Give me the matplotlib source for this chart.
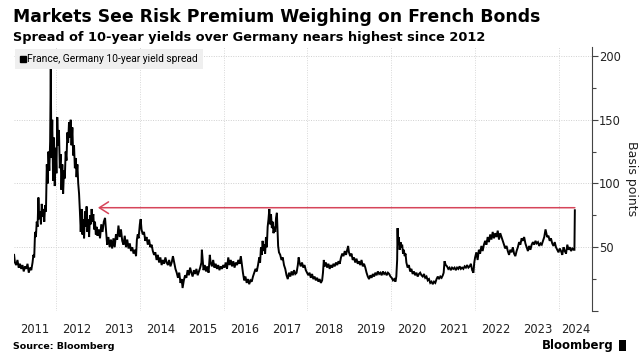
import matplotlib
matplotlib.use("Agg")
import matplotlib.pyplot as plt
from matplotlib.lines import Line2D
from matplotlib.patches import Rectangle

# ---------------------------------------------------------------------------
# Data: France - Germany 10-year yield spread (bp)
# dates are decimal years
# ---------------------------------------------------------------------------
spread_dates = [
    2011.00, 2011.02, 2011.05, 2011.08, 2011.11, 2011.14, 2011.17, 2011.20, 2011.23, 2011.26,
    2011.29, 2011.32, 2011.35, 2011.38, 2011.41, 2011.44, 2011.46, 2011.48, 2011.50, 2011.52,
    2011.54, 2011.56, 2011.58, 2011.60, 2011.62, 2011.64, 2011.66, 2011.68, 2011.70, 2011.72,
    2011.74, 2011.76, 2011.78, 2011.80, 2011.82, 2011.84, 2011.86, 2011.875, 2011.89, 2011.91,
    2011.93, 2011.95, 2011.97, 2011.99, 2012.01, 2012.03, 2012.05, 2012.07, 2012.09, 2012.11,
    2012.13, 2012.15, 2012.17, 2012.19, 2012.21, 2012.23, 2012.25, 2012.27, 2012.29, 2012.31,
    2012.33, 2012.35, 2012.37, 2012.39, 2012.41, 2012.43, 2012.45, 2012.47, 2012.49, 2012.51,
    2012.53, 2012.55, 2012.57, 2012.59, 2012.61, 2012.63, 2012.65, 2012.67, 2012.69, 2012.71,
    2012.73, 2012.75, 2012.77, 2012.79, 2012.81, 2012.83, 2012.85, 2012.87, 2012.89, 2012.91,
    2012.93, 2012.95, 2012.97, 2012.99, 2013.02, 2013.05, 2013.08, 2013.11, 2013.14, 2013.17,
    2013.20, 2013.22, 2013.25, 2013.28, 2013.31, 2013.34, 2013.37, 2013.40, 2013.43, 2013.46,
    2013.49, 2013.52, 2013.55, 2013.58, 2013.61, 2013.64, 2013.67, 2013.70, 2013.73, 2013.76,
    2013.79, 2013.82, 2013.85, 2013.88, 2013.91, 2013.93, 2013.95, 2013.97, 2014.00, 2014.02,
    2014.04, 2014.07, 2014.10, 2014.13, 2014.16, 2014.19, 2014.22, 2014.25, 2014.28, 2014.31,
    2014.34, 2014.37, 2014.40, 2014.43, 2014.46, 2014.49, 2014.52, 2014.55, 2014.58, 2014.61,
    2014.64, 2014.67, 2014.70, 2014.73, 2014.76, 2014.79, 2014.82, 2014.85, 2014.88, 2014.91,
    2014.94, 2014.97, 2015.00, 2015.02, 2015.05, 2015.08, 2015.11, 2015.14, 2015.17, 2015.20,
    2015.23, 2015.26, 2015.29, 2015.32, 2015.35, 2015.38, 2015.41, 2015.44, 2015.47, 2015.48,
    2015.50, 2015.52, 2015.55, 2015.58, 2015.61, 2015.64, 2015.67, 2015.69, 2015.72, 2015.75,
    2015.78, 2015.81, 2015.84, 2015.87, 2015.90, 2015.93, 2015.96, 2015.99, 2016.02, 2016.05,
    2016.08, 2016.11, 2016.14, 2016.17, 2016.20, 2016.23, 2016.26, 2016.29, 2016.32, 2016.35,
    2016.38, 2016.41, 2016.43, 2016.46, 2016.49, 2016.52, 2016.55, 2016.58, 2016.61, 2016.64,
    2016.67, 2016.70, 2016.73, 2016.76, 2016.79, 2016.82, 2016.85, 2016.87, 2016.89, 2016.91,
    2016.93, 2016.95, 2016.97, 2016.99, 2017.01, 2017.03, 2017.05, 2017.07, 2017.09, 2017.11,
    2017.13, 2017.15, 2017.17, 2017.19, 2017.21, 2017.23, 2017.25, 2017.27, 2017.29, 2017.30,
    2017.32, 2017.35, 2017.38, 2017.41, 2017.44, 2017.47, 2017.50, 2017.53, 2017.56, 2017.59,
    2017.62, 2017.65, 2017.68, 2017.71, 2017.74, 2017.77, 2017.79, 2017.81, 2017.84, 2017.87,
    2017.90, 2017.93, 2017.96, 2017.99, 2018.02, 2018.05, 2018.08, 2018.11, 2018.14, 2018.17,
    2018.20, 2018.23, 2018.26, 2018.29, 2018.32, 2018.35, 2018.37, 2018.39, 2018.41, 2018.44,
    2018.47, 2018.50, 2018.53, 2018.56, 2018.59, 2018.62, 2018.65, 2018.68, 2018.71, 2018.74,
    2018.77, 2018.80, 2018.83, 2018.86, 2018.89, 2018.92, 2018.95, 2018.97, 2018.99, 2019.02,
    2019.05, 2019.08, 2019.11, 2019.14, 2019.17, 2019.20, 2019.23, 2019.26, 2019.29, 2019.32,
    2019.35, 2019.38, 2019.41, 2019.44, 2019.47, 2019.50, 2019.53, 2019.56, 2019.59, 2019.62,
    2019.65, 2019.68, 2019.71, 2019.74, 2019.77, 2019.80, 2019.83, 2019.86, 2019.89, 2019.92,
    2019.95, 2019.98, 2020.01, 2020.04, 2020.07, 2020.10, 2020.12, 2020.14, 2020.15, 2020.16,
    2020.18, 2020.20, 2020.22, 2020.24, 2020.26, 2020.28, 2020.30, 2020.32, 2020.34, 2020.36,
    2020.39, 2020.42, 2020.45, 2020.48, 2020.51, 2020.54, 2020.57, 2020.60, 2020.63, 2020.66,
    2020.69, 2020.72, 2020.75, 2020.78, 2020.81, 2020.84, 2020.87, 2020.90, 2020.93, 2020.96,
    2020.99, 2021.02, 2021.05, 2021.08, 2021.11, 2021.14, 2021.17, 2021.20, 2021.23, 2021.25,
    2021.27, 2021.30, 2021.33, 2021.36, 2021.39, 2021.42, 2021.45, 2021.48, 2021.51, 2021.54,
    2021.57, 2021.60, 2021.63, 2021.66, 2021.69, 2021.72, 2021.75, 2021.78, 2021.81, 2021.84,
    2021.87, 2021.90, 2021.93, 2021.96, 2021.98, 2022.00, 2022.03, 2022.06, 2022.09, 2022.12,
    2022.15, 2022.18, 2022.21, 2022.24, 2022.27, 2022.30, 2022.33, 2022.36, 2022.39, 2022.42,
    2022.45, 2022.48, 2022.51, 2022.54, 2022.57, 2022.60, 2022.63, 2022.66, 2022.69, 2022.72,
    2022.75, 2022.78, 2022.81, 2022.84, 2022.87, 2022.90, 2022.93, 2022.96, 2022.99, 2023.02,
    2023.05, 2023.08, 2023.11, 2023.14, 2023.17, 2023.20, 2023.23, 2023.26, 2023.29, 2023.32,
    2023.35, 2023.38, 2023.41, 2023.44, 2023.47, 2023.50, 2023.53, 2023.56, 2023.59, 2023.62,
    2023.65, 2023.68, 2023.70, 2023.72, 2023.75, 2023.78, 2023.81, 2023.84, 2023.87, 2023.90,
    2023.93, 2023.96, 2023.99, 2024.02, 2024.05, 2024.08, 2024.11, 2024.14, 2024.17, 2024.20,
    2024.23, 2024.26, 2024.29, 2024.32, 2024.35, 2024.37, 2024.38,
]
spread_bp = [
    44, 38, 36, 40, 34, 37, 33, 36, 31, 35,
    33, 37, 30, 34, 32, 38, 44, 42, 62, 58,
    70, 66, 89, 72, 78, 68, 84, 74, 80, 70,
    83, 78, 115, 100, 125, 110, 133, 191, 120, 150,
    102, 136, 98, 128, 108, 152, 130, 142, 112, 123,
    95, 115, 92, 110, 104, 125, 118, 140, 132, 148,
    136, 150, 130, 144, 122, 130, 112, 120, 105, 115,
    100, 92, 78, 62, 80, 60, 72, 57, 78, 66,
    82, 62, 72, 58, 75, 68, 80, 70, 76, 64,
    70, 60, 66, 59, 64, 57, 68, 62, 70, 73,
    60, 52, 58, 50, 56, 49, 57, 50, 60, 56,
    67, 58, 64, 55, 52, 59, 50, 56, 49, 53,
    47, 50, 45, 48, 43, 56, 60, 57, 68, 72,
    64, 60, 62, 55, 58, 52, 56, 50, 52, 47,
    44, 46, 40, 44, 38, 42, 36, 40, 37, 42,
    38, 36, 40, 35, 38, 43, 38, 33, 30, 26,
    30, 22, 25, 18, 24, 28, 26, 32, 28, 34,
    30, 27, 32, 29, 33, 28, 31, 34, 38, 48,
    40, 32, 36, 31, 35, 30, 44, 38, 35, 40,
    34, 37, 33, 36, 32, 35, 33, 36, 34, 38,
    33, 42, 36, 40, 35, 39, 34, 38, 36, 40,
    37, 43, 38, 30, 24, 27, 22, 25, 21, 24,
    23, 27, 30, 33, 31, 36, 42, 38, 50, 44,
    55, 47, 52, 45, 58, 50, 66, 72, 80, 68,
    76, 65, 70, 61, 66, 62, 73, 77, 60, 51,
    46, 44, 40, 42, 36, 33, 28, 25, 30, 27,
    31, 28, 32, 29, 30, 36, 42, 38, 35, 38,
    34, 36, 32, 30, 28, 30, 26, 29, 25, 27,
    24, 26, 23, 25, 22, 24, 30, 40, 35, 38,
    34, 37, 33, 36, 34, 37, 35, 38, 36, 39,
    37, 42, 45, 43, 47, 44, 48, 51, 46, 43,
    45, 40, 42, 38, 41, 37, 39, 36, 40, 35,
    37, 34, 30, 27, 25, 28, 26, 29, 27, 30,
    28, 31, 29, 30, 28, 31, 29, 30, 28, 30,
    29, 27, 26, 24, 25, 23, 27, 40, 65, 52,
    58, 48, 54, 50, 52, 45, 48, 43, 45, 38,
    34, 36, 31, 33, 29, 31, 28, 30, 27, 29,
    30, 28, 27, 29, 26, 27, 24, 25, 22, 23,
    21, 23, 22, 25, 27, 25, 27, 26, 28, 30,
    39, 36, 35, 33, 34, 32, 34, 33, 34, 32,
    34, 33, 35, 33, 34, 33, 35, 34, 36, 34,
    35, 37, 32, 30, 38, 42, 46, 40, 48, 45,
    51, 47, 52, 55, 52, 58, 54, 60, 56, 62,
    57, 61, 58, 63, 56, 61, 58, 55, 52, 49,
    51, 47, 44, 48, 46, 50, 45, 43, 47, 50,
    54, 52, 57, 55, 58, 53, 50, 47, 51, 48,
    52, 54, 52, 55, 53, 54, 51, 53, 52, 55,
    58, 64, 61, 58, 59, 55, 57, 53, 51, 54,
    50, 48, 46, 49, 47, 44, 50, 47, 45, 52,
    48, 50, 47, 49, 48, 48, 79,
]

year_labels = [str(y) for y in range(2011, 2025)]
grid_years = [2012, 2014, 2016, 2018, 2020, 2022, 2024]
y_ticks = [0, 50, 100, 150, 200]
y_tick_labels = ["", "50", "100", "150", "200"]
y_minor = [25, 75, 125, 175]

# level marked by the arrow: latest reading vs end-2012
arrow_level = 81
arrow_from = 2024.38
arrow_to = 2013.0

x_min, x_max = 2011.0, 2024.79

# ---------------------------------------------------------------------------
# Figure
# ---------------------------------------------------------------------------
fig = plt.figure(figsize=(6.41, 3.57), dpi=100)
ax = fig.add_axes([0.022, 0.129, 0.9016, 0.739])

ax.plot(spread_dates, spread_bp, color="black", lw=1.4, solid_joinstyle="miter")

ax.annotate("", xy=(arrow_to, arrow_level), xytext=(arrow_from, arrow_level),
            arrowprops=dict(arrowstyle="->,head_length=0.55,head_width=0.35",
                            color="#d6455a", lw=1.1, shrinkA=0, shrinkB=0,
                            mutation_scale=12))

ax.set_xlim(x_min, x_max)
ax.set_ylim(0, 207)

# grid
for gy in [50, 100, 150, 200]:
    ax.axhline(gy, color="#d0d0d0", lw=0.7, ls=(0, (1, 1.5)), zorder=0)
for gx in grid_years:
    ax.axvline(gx, color="#d8d8d8", lw=0.7, ls=(0, (1, 1.5)), zorder=0)

# x labels centred in each year (last one centred in the visible part)
label_pos = [y + 0.5 for y in range(2011, 2024)] + [(2024 + x_max) / 2]
ax.set_xticks(label_pos)
ax.set_xticklabels(year_labels, fontsize=8.3, color="#222222")
ax.tick_params(axis="x", length=0, pad=9)

# y axis on the right
ax.yaxis.tick_right()
ax.set_yticks(y_ticks)
ax.set_yticklabels(y_tick_labels, fontsize=8.3, color="#222222")
ax.set_yticks(y_minor, minor=True)
ax.tick_params(axis="y", which="major", length=4, width=0.8, color="#444444", pad=1)
ax.tick_params(axis="y", which="minor", length=3, width=0.8, color="#444444")
ax.yaxis.set_label_position("right")
ax.set_ylabel("Basis points", rotation=270, fontsize=9, color="#222222", labelpad=12)

for side in ["top", "left", "bottom"]:
    ax.spines[side].set_visible(False)
ax.spines["right"].set_color("#444444")
ax.spines["right"].set_linewidth(0.8)

# legend
handle = Line2D([], [], marker="s", color="black", ls="", markersize=4)
leg = ax.legend([handle], ["France, Germany 10-year yield spread"], loc="upper left",
                bbox_to_anchor=(-0.002, 1.0), frameon=True, fancybox=False,
                facecolor="#efefef", edgecolor="none", framealpha=1,
                prop={"family": "Roboto", "size": 7.4},
                handlelength=0.5, handletextpad=0.2,
                borderpad=0.5, borderaxespad=0.2)

# titles
fig.text(0.02, 0.952, "Markets See Risk Premium Weighing on French Bonds",
         fontsize=12.4, fontweight="bold", va="center", ha="left")
fig.text(0.02, 0.896, "Spread of 10-year yields over Germany nears highest since 2012",
         fontsize=9.3, fontweight="bold", va="center", ha="left")

# footer
fig.text(0.02, 0.03, "Source: Bloomberg", fontsize=6.8, fontweight="bold",
         va="center", ha="left")
fig.text(0.957, 0.033, "Bloomberg", fontsize=8.5, fontweight="bold",
         va="center", ha="right")
fig.patches.append(Rectangle((0.965, 0.018), 0.012, 0.03, transform=fig.transFigure,
                             facecolor="black", edgecolor="none"))

fig.savefig("out.png", dpi=100, facecolor="white")
